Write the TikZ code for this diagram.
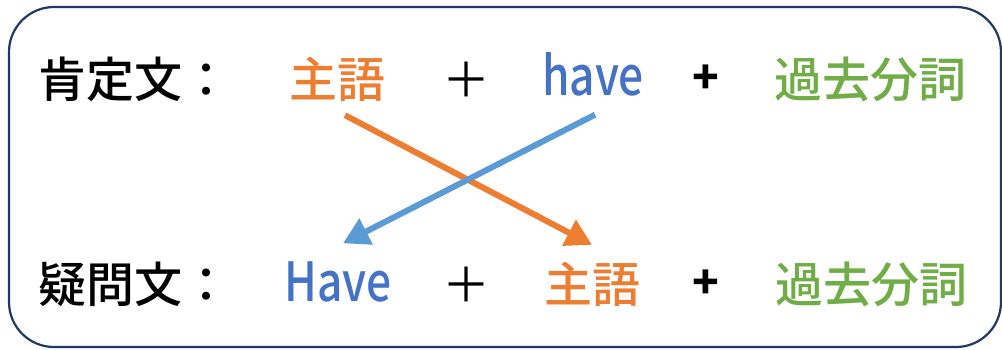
\documentclass[tikz,border=0pt]{standalone}
\usepackage{fontspec}
\setmainfont{Noto Sans CJK JP Medium}
\newfontfamily\latinf[FakeStretch=0.82]{Noto Sans CJK JP Medium}
\newfontfamily\plusf{Noto Sans CJK JP}
\usetikzlibrary{arrows.meta}
\definecolor{frame}{HTML}{1F3864}
\definecolor{orangeT}{HTML}{ED7D31}
\definecolor{blueT}{HTML}{4472C4}
\definecolor{blueA}{HTML}{5B9BD5}
\definecolor{greenT}{HTML}{70AD47}
\tikzset{
  cjk/.style={inner sep=0, anchor=base, font=\fontsize{48}{48}\selectfont, text height=42pt, text depth=6pt},
  lat/.style={inner sep=0, anchor=base, font=\fontsize{54}{54}\selectfont\latinf, text height=47.5pt, text depth=6.5pt},
  bigplus/.style={inner sep=0, anchor=base, font=\fontsize{48}{48}\selectfont\plusf},
  smallplus/.style={inner sep=0, anchor=base, font=\fontsize{44}{44}\selectfont\bfseries},
  conn/.style={line width=6pt, -{Triangle[length=26pt,width=28pt]}},
}
\begin{document}
\begin{tikzpicture}[x=1pt,y=-1pt]
\useasboundingbox (0,0) rectangle (1002,349);
\draw[frame, line width=2.2pt, rounded corners=45pt] (9,7) rectangle (1001,347);
% row 1
\node[cjk] (l1) at (134,97) {肯定文：};
\node[cjk, text=orangeT] (s1) at (337,97) {主語};
\node[bigplus] (p1) at (466,97) {＋};
\node[lat, text=blueT] (h1) at (593,95) {have};
\node[smallplus] (q1) at (706,93) {+};
\node[cjk, text=greenT] (g1) at (870,97) {過去分詞};
% row 2
\node[cjk] (l2) at (134,302) {疑問文：};
\node[lat, text=blueT] (h2) at (338,301) {Have};
\node[bigplus] (p2) at (466,302) {＋};
\node[cjk, text=orangeT] (s2) at (592,302) {主語};
\node[smallplus] (q2) at (706,298) {+};
\node[cjk, text=greenT] (g2) at (871,302) {過去分詞};
% arrows
\draw[conn, orangeT] ([shift={(8,12)}]s1.south) -- ([shift={(0,-15)}]s2.north);
\draw[conn, blueA] ([shift={(2,13)}]h1.south) -- ([shift={(5,-10)}]h2.north);
\end{tikzpicture}
\end{document}
